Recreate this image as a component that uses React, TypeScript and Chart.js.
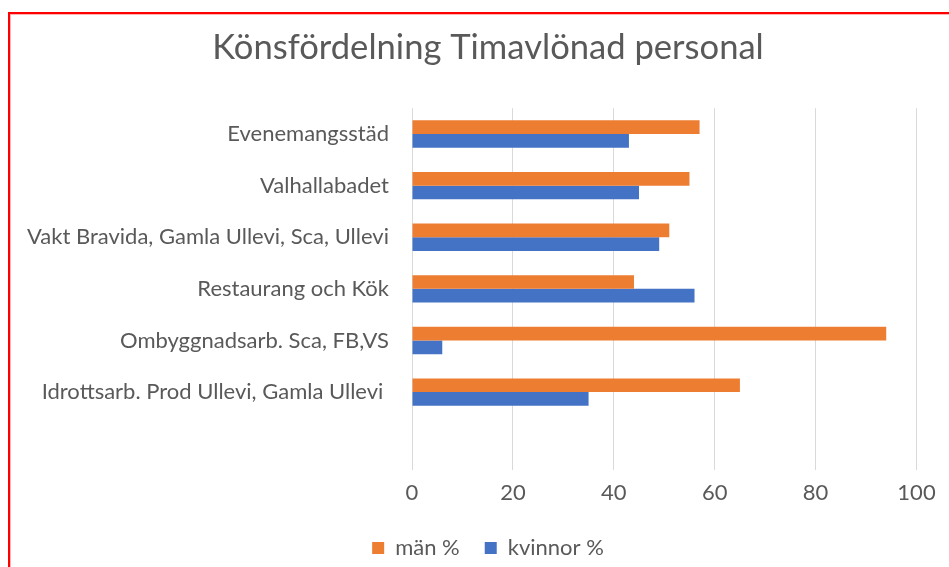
import React, { useEffect, useRef } from "react";
import { Chart, registerables } from "chart.js";

Chart.register(...registerables);

// ---- Data ----
const TITLE = "Könsfördelning Timavlönad personal";
const categories = [
  "Evenemangsstäd",
  "Valhallabadet",
  "Vakt Bravida, Gamla Ullevi, Sca, Ullevi",
  "Restaurang och Kök",
  "Ombyggnadsarb. Sca, FB,VS",
  "Idrottsarb. Prod Ullevi, Gamla Ullevi ",
  "",
];
const seriesNames = ["män %", "kvinnor %"];
const manValues: (number | null)[] = [57, 55, 51, 44, 94, 65, null];
const kvinnorValues: (number | null)[] = [43, 45, 49, 56, 6, 35, null];
const xMin = 0;
const xMax = 100;
const xStep = 20;

// ---- Styles ----
const FONT = "Lato, 'Open Sans', sans-serif";
const TEXT = "#595959";
const ORANGE = "#ED7D31";
const BLUE = "#4472C4";
const GRID = "#D9D9D9";
const W = 949;
const H = 569;
const PAD_LEFT = 59.5;
const AREA_LEFT = 412;
const LABEL_SIZE = 22;
const TITLE_SIZE = 34.6;

// lets the category labels extend left of the scale box (no clipping)
const unclipYLabels = {
  id: "unclipYLabels",
  afterLayout(chart: any) {
    const y = chart.scales && chart.scales.y;
    if (y) y.left = 0;
  },
};

export default function App() {
  const ref = useRef<HTMLCanvasElement | null>(null);

  useEffect(() => {
    let chart: Chart | null = null;
    let cancelled = false;
    const create = () => {
      if (cancelled || !ref.current) return;
      chart = new Chart(ref.current, {
        type: "bar",
        data: {
          labels: categories,
          datasets: [
            {
              label: seriesNames[0],
              data: manValues,
              backgroundColor: ORANGE,
              borderWidth: 0,
              categoryPercentage: 0.53,
              barPercentage: 1,
            },
            {
              label: seriesNames[1],
              data: kvinnorValues,
              backgroundColor: BLUE,
              borderWidth: 0,
              categoryPercentage: 0.53,
              barPercentage: 1,
            },
          ],
        },
        plugins: [unclipYLabels],
        options: {
          indexAxis: "y",
          responsive: false,
          maintainAspectRatio: false,
          animation: false,
          devicePixelRatio: 1,
          layout: { padding: { left: PAD_LEFT, right: 32.5, top: 0, bottom: 0 } },
          plugins: {
            title: {
              display: true,
              text: TITLE,
              color: TEXT,
              font: { family: FONT, size: TITLE_SIZE, weight: "normal" },
              padding: { top: 27.5, bottom: 39.2 },
            },
            legend: {
              position: "bottom",
              labels: {
                color: TEXT,
                font: { family: FONT, size: LABEL_SIZE },
                boxWidth: 12,
                boxHeight: 12,
                padding: 25,
              },
            },
            tooltip: { enabled: false },
          },
          scales: {
            x: {
              min: xMin,
              max: xMax,
              ticks: {
                stepSize: xStep,
                color: TEXT,
                font: { family: FONT, size: LABEL_SIZE },
                padding: 10,
              },
              grid: { color: GRID, lineWidth: 1, drawTicks: false },
              border: { display: false },
              afterFit: (s: any) => {
                s.height = 42.5;
              },
            },
            y: {
              grid: { display: false, drawTicks: false },
              border: { display: false },
              ticks: {
                color: TEXT,
                font: { family: FONT, size: LABEL_SIZE },
                padding: 23,
                autoSkip: false,
              },
              afterFit: (s: any) => {
                s.width = AREA_LEFT - PAD_LEFT;
              },
            },
          },
        },
      });
    };
    const fonts = (document as any).fonts;
    if (fonts && fonts.load) {
      Promise.all([fonts.load("22px Lato"), fonts.load("34px Lato")])
        .catch(() => null)
        .then(create);
    } else {
      create();
    }
    return () => {
      cancelled = true;
      if (chart) chart.destroy();
    };
  }, []);

  return (
    <div
      style={{
        position: "fixed",
        left: 0,
        top: 0,
        width: W,
        height: 567,
        overflow: "hidden",
        background: "#ffffff",
      }}
    >
      <canvas
        ref={ref}
        width={W}
        height={H}
        style={{ position: "absolute", left: 0, top: 0, width: W, height: H }}
      />
      <div
        style={{
          position: "absolute",
          left: 8,
          top: 12,
          width: 980,
          height: 600,
          borderLeft: "2px solid #FF0000",
          borderTop: "2px solid #FF0000",
          boxShadow: "inset 1px 1px 0 #FFB3B3",
          pointerEvents: "none",
        }}
      />
    </div>
  );
}
